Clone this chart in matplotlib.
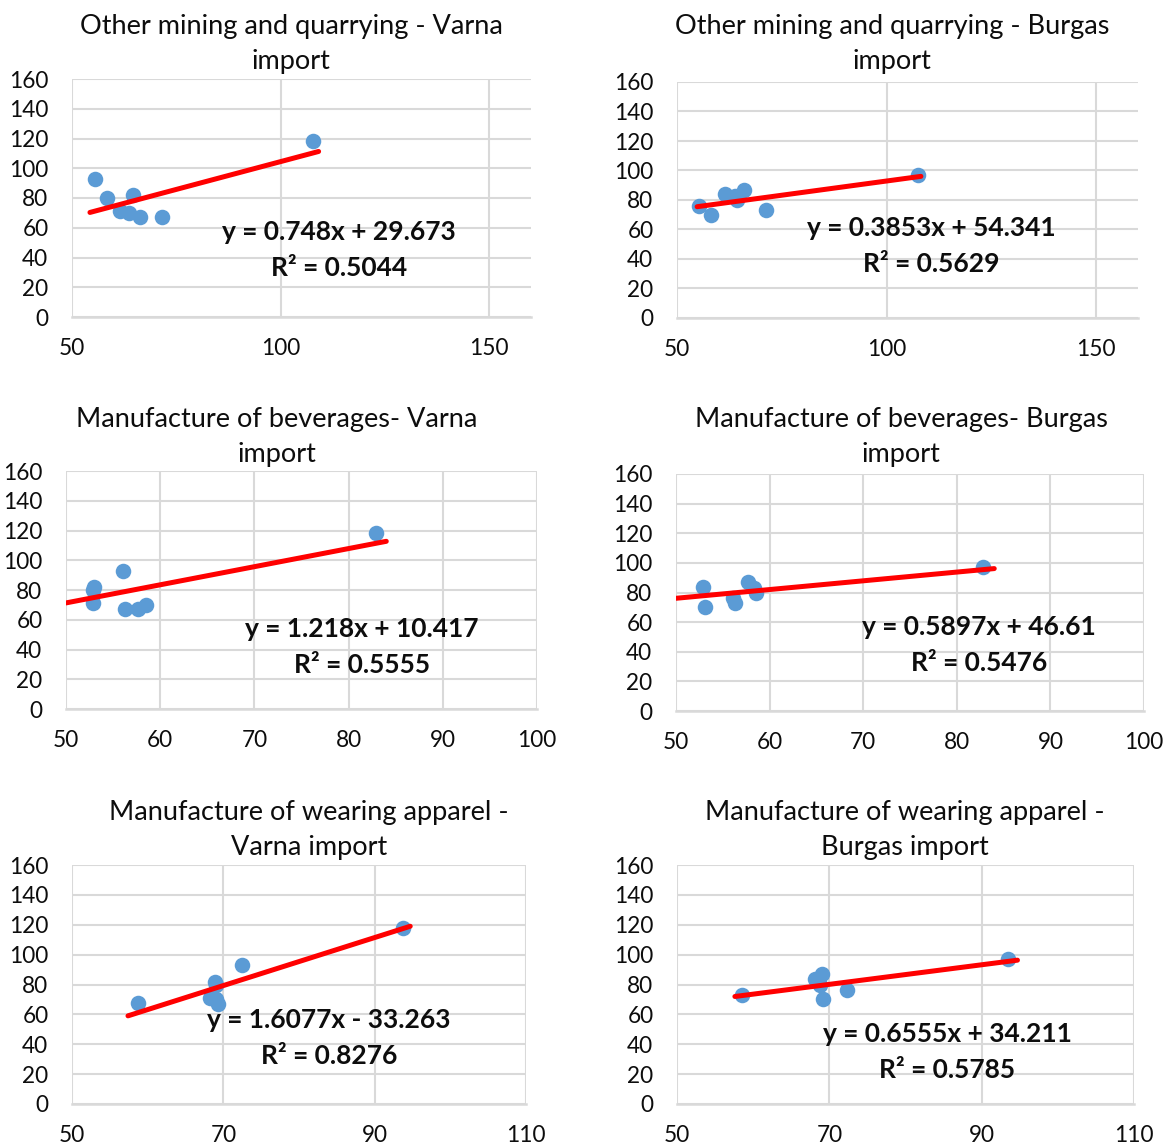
import matplotlib
matplotlib.use("Agg")
import matplotlib.pyplot as plt
import numpy as np

W, H = 1164, 1144
FONT = ["Lato", "DejaVu Sans"]
BLUE = "#5B9BD5"
RED = "#FF0000"
GRID = "#D9D9D9"
TXT = "#0d0d0d"

# import index of each port (same order of observations in every panel)
varna_y = [93, 80, 71, 70, 82, 67, 67.5, 118]
burgas_y = [76, 70, 84, 83, 80, 87, 73, 97]

# x = industry index, one list per panel
mining_varna_x = [55.5, 58.3, 61.5, 63.7, 64.7, 66.3, 71.5, 107.7]
mining_burgas_x = [55.3, 58.0, 61.5, 63.8, 64.2, 66.0, 71.2, 107.6]
bev_varna_x = [56.1, 52.9, 52.9, 58.5, 53.0, 57.6, 56.3, 82.9]
bev_burgas_x = [56.1, 53.1, 52.9, 58.3, 58.5, 57.7, 56.3, 82.8]
app_varna_x = [72.5, 69.0, 68.3, 69.0, 68.9, 69.3, 58.7, 93.7]
app_burgas_x = [72.3, 69.2, 68.1, 68.5, 68.8, 69.0, 58.5, 93.5]

# trendline coefficients (slope, intercept), R² and drawn x range
slopes = [0.748, 0.3853, 1.218, 0.5897, 1.6077, 0.6555]
intercepts = [29.673, 54.341, 10.417, 46.61, -33.263, 34.211]
r2 = ["0.5044", "0.5629", "0.5555", "0.5476", "0.8276", "0.5785"]
eq_text = ["y = 0.748x + 29.673", "y = 0.3853x + 54.341", "y = 1.218x + 10.417",
           "y = 0.5897x + 46.61", "y = 1.6077x - 33.263", "y = 0.6555x + 34.211"]
line_x = [(54.3, 109.1), (54.8, 108.2), (50, 84), (50, 84), (57.4, 94.7), (57.6, 94.7)]

titles = ["Other mining and quarrying - Varna\nimport",
          "Other mining and quarrying - Burgas\nimport",
          "Manufacture of beverages- Varna\nimport",
          "Manufacture of beverages- Burgas\nimport",
          "Manufacture of wearing apparel -\nVarna import",
          "Manufacture of wearing apparel -\nBurgas import"]

xs = [mining_varna_x, mining_burgas_x, bev_varna_x, bev_burgas_x, app_varna_x, app_burgas_x]
ys = [varna_y, burgas_y, varna_y, burgas_y, varna_y, burgas_y]
xlims = [(50, 160), (50, 160), (50, 100), (50, 100), (50, 110), (50, 110)]
xticks = [[50, 100, 150], [50, 100, 150], list(range(50, 101, 10)), list(range(50, 101, 10)),
          [50, 70, 90, 110], [50, 70, 90, 110]]

# layout in pixels: plot box (left, right, top, bottom), title centre, equation centre
boxes = [(72, 531, 79, 317), (677, 1138, 82, 318), (66, 537, 471, 709),
         (676, 1144, 474, 711), (72, 526, 865, 1104), (677, 1134, 865, 1104)]
title_pos = [(291, 44), (892, 44), (277, 437), (901, 437), (309, 830), (905, 830)]
eq_pos = [(339, 232), (931, 228), (362, 629), (979, 627), (329, 1020), (947, 1034)]

fig = plt.figure(figsize=(W / 100, H / 100), dpi=100, facecolor="white")

for i in range(6):
    l, r, t, b = boxes[i]
    ax = fig.add_axes([l / W, 1 - b / H, (r - l) / W, (b - t) / H])
    ax.set_xlim(*xlims[i])
    ax.set_ylim(0, 160)
    ax.set_xticks(xticks[i])
    ax.set_yticks(range(0, 161, 20))
    ax.grid(True, color=GRID, linewidth=1.5, zorder=0)
    ax.set_axisbelow(True)
    for s in ["top", "right", "left"]:
        ax.spines[s].set_visible(False)
    ax.spines["bottom"].set_color(GRID)
    ax.spines["bottom"].set_linewidth(1.8)
    ax.tick_params(length=0, labelsize=16.3, labelcolor=TXT)
    ax.tick_params(axis="y", pad=17)
    ax.tick_params(axis="x", pad=15)
    for lab in ax.get_xticklabels() + ax.get_yticklabels():
        lab.set_family(FONT)

    ax.scatter(xs[i], ys[i], s=125, color=BLUE, zorder=3, linewidths=0)
    lx = np.array(line_x[i])
    ax.plot(lx, slopes[i] * lx + intercepts[i], color=RED, linewidth=3.6,
            solid_capstyle="round", zorder=4)

    tx, ty = title_pos[i]
    fig.text(tx / W, 1 - ty / H, titles[i], ha="center", va="center",
             fontsize=19.5, family=FONT, color=TXT, linespacing=1.48)
    ex, ey = eq_pos[i]
    fig.text(ex / W, 1 - ey / H, eq_text[i], ha="center", va="center",
             fontsize=19, fontweight="bold", family=FONT, color=TXT, zorder=5)
    fig.text(ex / W, 1 - (ey + 36) / H, "R² = " + r2[i], ha="center", va="center",
             fontsize=19, fontweight="bold", family=FONT, color=TXT, zorder=5)

fig.savefig("out.png", dpi=100, facecolor="white")
